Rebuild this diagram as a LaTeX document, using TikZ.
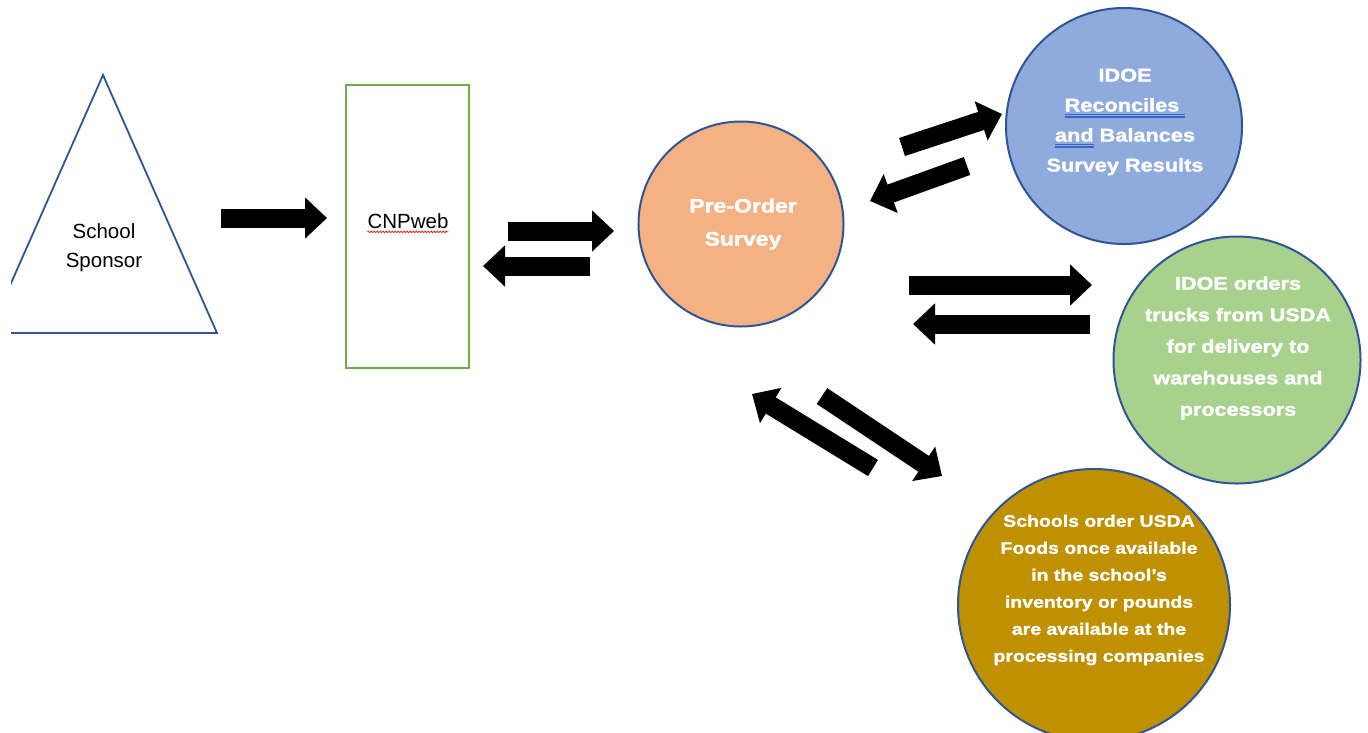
\documentclass[tikz,border=0pt]{standalone}
\usepackage{fontspec}
\setmainfont{Liberation Sans}
\newfontfamily\boldwide{Liberation Sans}[FakeStretch=1.18,FakeBold=1.6]
\usetikzlibrary{arrows.meta,decorations.pathmorphing}
\definecolor{edgeblue}{HTML}{2F5597}
\definecolor{boxgreen}{HTML}{70AD47}
\definecolor{peach}{HTML}{F4B183}
\definecolor{skyblue}{HTML}{8FAADC}
\definecolor{leafgreen}{HTML}{A9D18E}
\definecolor{mustard}{HTML}{BF9000}
\definecolor{ulblue}{HTML}{3A66C8}
\newsavebox{\ulbox}
\newcommand{\dblul}[1]{\sbox{\ulbox}{#1}\rlap{\color{ulblue}\raisebox{-3.5pt}{\rule{\wd\ulbox}{1.1pt}}}\rlap{\color{ulblue}\raisebox{-6pt}{\rule{\wd\ulbox}{1.1pt}}}\usebox{\ulbox}}
\begin{document}
\begin{tikzpicture}[x=1pt,y=1pt,
  bubble/.style={circle, draw=edgeblue, line width=2pt, inner sep=0pt},
  wtxt/.style={text=white, align=center, inner sep=0pt},
  blockarrow/.style={line width=19pt, -{Triangle[length=22pt,width=40pt]}},
  plain/.style={align=center, inner sep=0pt, font=\fontsize{20.5}{29}\selectfont}]
\useasboundingbox[fill=white] (0,0) rectangle (1368,-732);

% School sponsor triangle
\begin{scope}
  \clip (11,0) rectangle (300,-400);
  \draw[edgeblue, line width=1.8pt, line join=miter] (-11,-333) -- (103,-75) -- (217,-333) -- cycle;
\end{scope}
\node[plain] (ss) at (104,-248) {School\\Sponsor};

% CNPweb box
\node[draw=boxgreen, line width=1.8pt, minimum width=123pt, minimum height=283pt, inner sep=0pt] (cnp) at (407.5,-226.5) {};
\node[plain] (cnpT) at (408,-221) {CNPweb};
\draw[red, line width=0.6pt, decorate, decoration={snake, amplitude=0.9pt, segment length=3pt}]
  ([yshift=-3.5pt]cnpT.base west) -- ([yshift=-3.5pt]cnpT.base east);

% circles
\node[bubble, fill=peach, minimum size=205pt] (pre) at (741,-224) {};
\node[wtxt, font=\boldwide\bfseries\fontsize{19.5}{33}\selectfont] (preT) at (743,-224) {Pre-Order\\Survey};

\node[bubble, fill=skyblue, minimum size=236pt] (idoe) at (1124,-126) {};
\node[wtxt, font=\boldwide\bfseries\fontsize{18.4}{30}\selectfont] (idoeT) at (1125,-122)
  {IDOE\\\dblul{Reconciles\ }\\\dblul{and} Balances\\Survey Results};

\node[bubble, fill=leafgreen, minimum size=247pt] (usda) at (1237,-360) {};
\node[wtxt, font=\boldwide\bfseries\fontsize{18.3}{31.5}\selectfont] (usdaT) at (1238,-348)
  {IDOE orders\\trucks from USDA\\for delivery to\\warehouses and\\processors};

\node[bubble, fill=mustard, minimum size=272pt] (sch) at (1094,-605) {};
\node[wtxt, font=\boldwide\bfseries\fontsize{16.5}{27}\selectfont] (schT) at (1099,-590)
  {Schools order USDA\\Foods once available\\in the school’s\\inventory or pounds\\are available at the\\processing companies};

% arrow end points
\coordinate (a1s) at (221,-218); \coordinate (a1e) at (327,-218);
\coordinate (a2s) at (508,-231); \coordinate (a2e) at (614,-231);
\coordinate (a3s) at (590,-266); \coordinate (a3e) at (483,-266);
\coordinate (a4s) at (902,-147); \coordinate (a4e) at (1002,-114);
\coordinate (a5s) at (967,-166); \coordinate (a5e) at (870,-201);
\coordinate (a6s) at (909,-285); \coordinate (a6e) at (1092,-285);
\coordinate (a7s) at (1090,-324); \coordinate (a7e) at (913,-324);
\coordinate (a8s) at (822,-396); \coordinate (a8e) at (942,-476);
\coordinate (a9s) at (873,-468); \coordinate (a9e) at (752,-394);

\foreach \i in {1,...,9}{
  \draw[blockarrow] (a\i s) -- (a\i e);
}
\end{tikzpicture}
\end{document}
